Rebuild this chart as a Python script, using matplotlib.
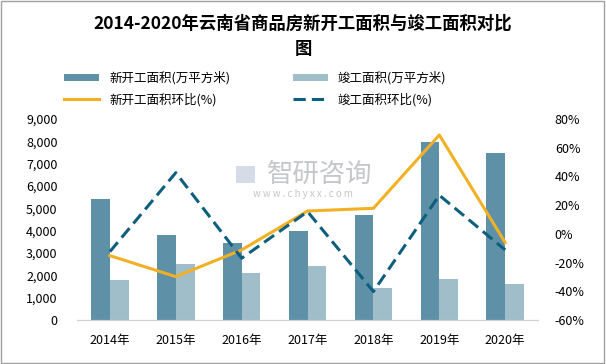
import matplotlib.pyplot as plt
import numpy as np
from matplotlib.ticker import FuncFormatter
from matplotlib.patches import Rectangle

plt.rcParams['font.family'] = ['Noto Sans CJK SC', 'DejaVu Sans']

years = ['2014年', '2015年', '2016年', '2017年', '2018年', '2019年', '2020年']
new_area = [5430, 3810, 3450, 3990, 4710, 7980, 7490]
done_area = [1800, 2520, 2110, 2420, 1440, 1840, 1610]
new_yoy = [-15.2, -29.8, -11.2, 15.9, 17.8, 68.9, -6.1]
done_yoy = [-12.4, 42.6, -17.0, 15.5, -40.2, 26.9, -11.2]

c_new = '#5e90a8'
c_done = '#a0bdca'
c_line1 = '#f2b124'
c_line2 = '#0e5f7e'

fig = plt.figure(figsize=(6.06, 3.64), dpi=100)
ax = fig.add_axes([0.127, 0.121, 0.761, 0.552])
ax2 = ax.twinx()

x = np.arange(len(years))
w = 0.285
b1 = ax.bar(x - w / 2, new_area, w, color=c_new, label='新开工面积(万平方米)')
b2 = ax.bar(x + w / 2, done_area, w, color=c_done, label='竣工面积(万平方米)')
l1, = ax2.plot(x, new_yoy, color=c_line1, lw=2.2, label='新开工面积环比(%)')
l2, = ax2.plot(x, done_yoy, color=c_line2, lw=2.2, ls=(0, (4, 2)), label='竣工面积环比(%)')

ax.set_xlim(-0.5, 6.5)
ax.set_ylim(0, 9000)
ax.set_yticks(range(0, 9001, 1000))
ax.yaxis.set_major_formatter(FuncFormatter(lambda v, p: f'{int(v):,}'))
ax2.set_ylim(-60, 80)
ax2.set_yticks(range(-60, 81, 20))
ax2.yaxis.set_major_formatter(FuncFormatter(lambda v, p: f'{int(v)}%'))
ax.set_xticks(x)
ax.set_xticklabels(years)

for a in (ax, ax2):
    for s in ['top', 'left', 'right']:
        a.spines[s].set_visible(False)
    a.spines['bottom'].set_color('#d0d0d0')
    a.tick_params(length=0, labelsize=9)
ax.tick_params(axis='x', pad=10)
ax.tick_params(axis='y', pad=14)
ax2.tick_params(axis='y', pad=12)

fig.text(0.5, 0.9, '2014-2020年云南省商品房新开工面积与竣工面积对比\n图', ha='center', va='center',
         fontsize=12.5, fontweight='bold', linespacing=1.55)

# legend fills column-first, so order handles to read row by row
handles = [b1, l1, b2, l2]
fig.legend(handles, [h.get_label() for h in handles], loc='center', bbox_to_anchor=(0.421, 0.756),
           ncol=2, frameon=False, fontsize=9, columnspacing=5.0, handlelength=2.8,
           handleheight=0.4, labelspacing=0.6)

# watermark
fig.text(0.527, 0.52, '智研咨询', fontsize=19, color='#c4c6c9', ha='center', va='center')
fig.text(0.5, 0.467, 'w w w . c h y x x . c o m', fontsize=7, color='#c4c6c9', ha='center', va='center')
fig.patches.append(Rectangle((0.39, 0.498), 0.03, 0.045, transform=fig.transFigure,
                             color='#d5dce8', lw=0))

fig.patches.append(Rectangle((0.002, 0.003), 0.995, 0.994, transform=fig.transFigure,
                             fill=False, edgecolor='#a0a0a0', lw=1))

fig.savefig('out.png', dpi=100)
